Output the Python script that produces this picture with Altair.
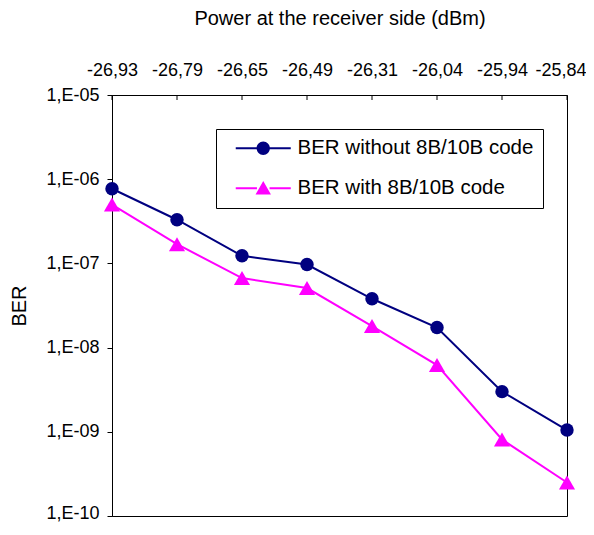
import altair as alt
import pandas as pd

# ---- data ----
power_labels = ["-26,93", "-26,79", "-26,65", "-26,49", "-26,31", "-26,04", "-25,94", "-25,84"]
ber_without = [7.7e-7, 3.3e-7, 1.23e-7, 9.7e-8, 3.8e-8, 1.73e-8, 3.0e-9, 1.05e-9]
ber_with = [5.0e-7, 1.69e-7, 6.7e-8, 5.1e-8, 1.8e-8, 6.2e-9, 8.1e-10, 2.5e-10]
series_names = ["BER without 8B/10B code", "BER with 8B/10B code"]
series_colors = ["#000080", "#FF00FF"]
y_tick_values = [1e-5, 1e-6, 1e-7, 1e-8, 1e-9, 1e-10]

rows = []
for i, (p, v) in enumerate(zip(power_labels, ber_without)):
    rows.append({"power": p, "ber": v, "series": series_names[0], "idx": i})
for i, (p, v) in enumerate(zip(power_labels, ber_with)):
    rows.append({"power": p, "ber": v, "series": series_names[1], "idx": i})
df = pd.DataFrame(rows)
ticks_df = pd.DataFrame({"power": power_labels})

FONT = "Liberation Sans"
W, H = 455, 421
PAD = {"left": 104, "top": 87, "right": 19, "bottom": 6}

last_test = f"datum.value === '{power_labels[-1]}'"
bottom_test = f"datum.value < {y_tick_values[-1] * 2}"

x_enc = alt.X(
    "power:O",
    sort=power_labels,
    scale=alt.Scale(type="point", padding=0),
    axis=alt.Axis(
        orient="top",
        title="Power at the receiver side (dBm)",
        ticks=False,
        tickSize=0,
        domain=False,
        labelAngle=0,
        labelFontSize=18,
        labelPadding=20,
        labelBaseline="alphabetic",
        labelAlign={"condition": {"test": last_test, "value": "right"}, "value": "center"},
        labelOffset={"condition": {"test": last_test, "value": PAD["right"]}, "value": 0},
        labelColor="black",
        titleFontSize=20,
        titleFontWeight="normal",
        titleColor="black",
        titleX=W / 2,
        titleY=-71,
        titleAlign="center",
        titleBaseline="alphabetic",
    ),
)

label_expr = ("'1,E-' + (abs(round(log(datum.value)/LN10)) < 10 ? '0' : '') + "
              "abs(round(log(datum.value)/LN10))")

y_enc = alt.Y(
    "ber:Q",
    scale=alt.Scale(type="log", domain=[1e-10, 1e-5], nice=False),
    axis=alt.Axis(
        values=y_tick_values,
        labelExpr=label_expr,
        grid=False,
        tickSize=5,
        tickColor="black",
        domainColor="black",
        labelFontSize=18,
        labelPadding=8,
        labelOffset={"condition": {"test": bottom_test, "value": -3}, "value": 0},
        labelColor="black",
        title="BER",
        titleFontSize=20,
        titleFontWeight="normal",
        titleColor="black",
        titleAngle=-90,
        titleX=-87,
        titleY=H / 2,
        titleAlign="center",
        titleBaseline="alphabetic",
    ),
)

base = alt.Chart(df)


def series_line(k):
    return base.transform_filter(alt.datum.series == series_names[k]).mark_line(
        strokeWidth=2, color=series_colors[k]
    ).encode(x=x_enc, y=y_enc, order=alt.Order("idx:Q"))


line_without = series_line(0)
line_with = series_line(1)

circles = base.transform_filter(
    alt.datum.series == series_names[0]
).mark_point(filled=True, opacity=1, shape="circle", size=180,
             color=series_colors[0]).encode(x=x_enc, y=y_enc)

triangles = base.transform_filter(
    alt.datum.series == series_names[1]
).mark_point(filled=True, opacity=1, shape="triangle-up", size=260,
             color=series_colors[1]).encode(x=x_enc, y=y_enc)

top_ticks = alt.Chart(ticks_df).mark_rule(color="black", strokeWidth=1).encode(
    x=x_enc, y=alt.value(0), y2=alt.value(5)
)

# legend symbols: short line segments on both sides of the marker (all filled)
legend_paths = [
    "M-3.93,-0.143H-0.85V0.143H-3.93Z"
    "M0.85,-0.143H3.93V0.143H0.85Z"
    "M0.95,0A0.95,0.95,0,1,1,-0.95,0A0.95,0.95,0,1,1,0.95,0Z",
    "M-3.93,-0.143H-0.9V0.143H-3.93Z"
    "M0.9,-0.143H3.93V0.143H0.9Z"
    "M0,-1.05L1.1,0.9L-1.1,0.9Z",
]

leg = alt.Legend(
    title=None,
    orient="none",
    legendX=104,
    legendY=34,
    padding=9,
    symbolSize=196,
    symbolStrokeWidth=0,
    symbolOffset=28,
    labelOffset=24,
    rowPadding=19,
    labelFontSize=20.5,
    labelFont=FONT,
    labelColor="black",
    labelLimit=400,
    labelExpr="datum.label + '\u00a0\u00a0'",
    strokeColor="black",
    fillColor="white",
    cornerRadius=0,
)

legend_layer = base.mark_point(filled=True, size=0, strokeWidth=0, opacity=1).encode(
    x=x_enc,
    y=y_enc,
    color=alt.Color("series:N", scale=alt.Scale(domain=series_names, range=series_colors), legend=leg),
    shape=alt.Shape("series:N", scale=alt.Scale(domain=series_names, range=legend_paths), legend=leg),
)

chart = alt.layer(line_without, circles, line_with, triangles, top_ticks, legend_layer).properties(
    width=W,
    height=H,
    autosize=alt.AutoSizeParams(type="none"),
    padding=PAD,
    background="white",
).configure(font=FONT).configure_view(
    stroke="black", strokeWidth=1
).configure_axis(labelFont=FONT, titleFont=FONT)

chart.save("out.html", embed_options={"renderer": "svg", "actions": False})
